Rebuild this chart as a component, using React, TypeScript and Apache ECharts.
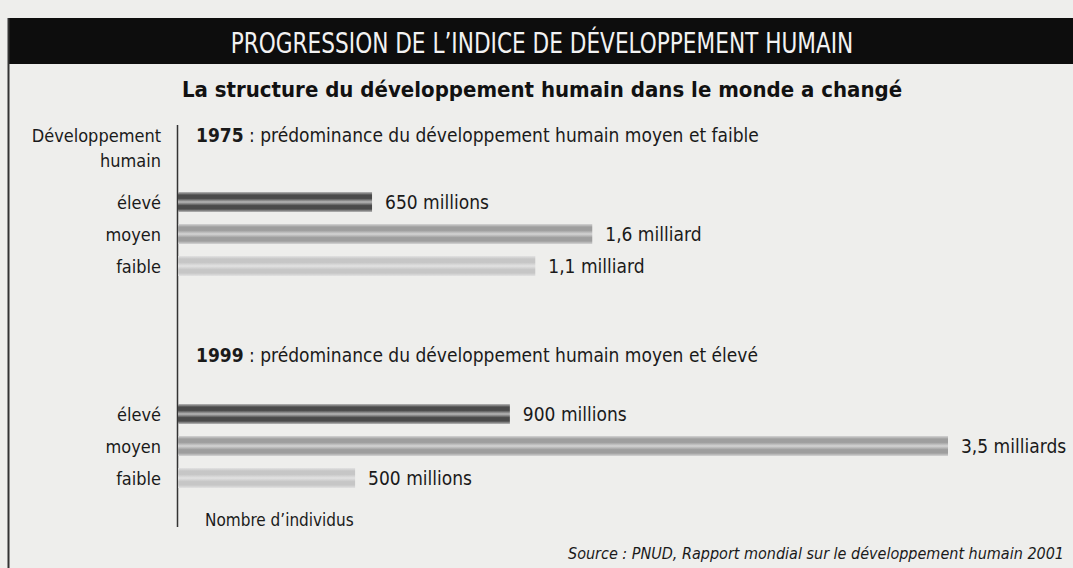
import React, { useEffect, useRef } from "react";
import * as echarts from "echarts";

const levels = ["élevé", "moyen", "faible"];
// population (millions) as labelled
const values1975 = [650, 1600, 1100];
const values1999 = [900, 3500, 500];
// bar lengths as drawn in the picture (% of longest bar; the original is not to scale)
const drawn1975 = [25.2, 53.8, 46.4];
const drawn1999 = [43.1, 100, 23.0];
const labels1975 = ["650 millions", "1,6 milliard", "1,1 milliard"];
const labels1999 = ["900 millions", "3,5 milliards", "500 millions"];

const FONT = "'Liberation Sans Narrow', 'DejaVu Sans Condensed', 'Roboto', sans-serif";

const barColors = [
  { dark: "#4a4a4a", light: "#b8b8b8" },
  { dark: "#9e9e9e", light: "#d4d4d4" },
  { dark: "#c6c6c6", light: "#e2e2e2" },
];

function grad(i: number) {
  const c = barColors[i];
  return new echarts.graphic.LinearGradient(0, 0, 0, 1, [
    { offset: 0, color: c.light },
    { offset: 0.15, color: c.dark },
    { offset: 0.32, color: c.dark },
    { offset: 0.5, color: c.light },
    { offset: 0.68, color: c.dark },
    { offset: 0.85, color: c.dark },
    { offset: 1, color: c.light },
  ]);
}

export default function App() {
  const ref = useRef<HTMLDivElement>(null);
  useEffect(() => {
    const chart = echarts.init(ref.current!, null, { renderer: "svg" });
    const mkSeries = (idx: number, drawn: number[], labels: string[]) => ({
      type: "bar",
      xAxisIndex: idx,
      yAxisIndex: idx,
      barWidth: 20,
      data: drawn.map((v, i) => ({ value: v, itemStyle: { color: grad(i) } })),
      label: {
        show: true,
        position: "right",
        distance: 13,
        fontFamily: FONT,
        fontSize: 19,
        color: "#1a1a1a",
        formatter: (p: any) => labels[p.dataIndex],
      },
    });
    const yAx = (gi: number) => ({
      type: "category",
      gridIndex: gi,
      data: levels,
      inverse: true,
      axisLine: { show: false },
      axisTick: { show: false },
      axisLabel: { fontFamily: FONT, fontSize: 18, color: "#1a1a1a", margin: 17 },
    });
    const xAx = (gi: number) => ({
      type: "value",
      gridIndex: gi,
      min: 0,
      max: 100,
      show: false,
    });
    chart.setOption({
      animation: false,
      backgroundColor: "#eeeeec",
      grid: [
        { left: 178, width: 770, top: 186, height: 96 },
        { left: 178, width: 770, top: 398, height: 96 },
      ],
      xAxis: [xAx(0), xAx(1)],
      yAxis: [yAx(0), yAx(1)],
      series: [mkSeries(0, drawn1975, labels1975), mkSeries(1, drawn1999, labels1999)],
      graphic: [
        { type: "rect", shape: { x: 8, y: 18, width: 1065, height: 46 }, style: { fill: "#0d0d0d" } },
        { type: "line", shape: { x1: 8.5, y1: 18, x2: 8.5, y2: 568 }, style: { stroke: "#333", lineWidth: 2 } },
        {
          type: "text", x: 542, y: 43, scaleX: 0.83,
          style: { text: "PROGRESSION DE L’INDICE DE DÉVELOPPEMENT HUMAIN", fill: "#f2f2f2", font: `29px ${FONT}`, align: "center", verticalAlign: "middle" },
        },
        {
          type: "text", x: 542, y: 89,
          style: { text: "La structure du développement humain dans le monde a changé", fill: "#111", font: `bold 22px ${FONT}`, align: "center", verticalAlign: "middle" },
        },
        { type: "line", shape: { x1: 177.5, y1: 125, x2: 177.5, y2: 527 }, style: { stroke: "#333", lineWidth: 1.5 } },
        {
          type: "text", x: 161, y: 135,
          style: { text: "Développement", fill: "#1a1a1a", font: `18px ${FONT}`, align: "right", verticalAlign: "middle" },
        },
        {
          type: "text", x: 161, y: 160,
          style: { text: "humain", fill: "#1a1a1a", font: `18px ${FONT}`, align: "right", verticalAlign: "middle" },
        },
        {
          type: "text", x: 196, y: 135,
          style: {
            text: "{b|1975} : prédominance du développement humain moyen et faible",
            fill: "#1a1a1a", font: `19px ${FONT}`, verticalAlign: "middle",
            rich: { b: { fontWeight: "bold", fontFamily: FONT, fontSize: 19, fill: "#1a1a1a" } },
          },
        },
        {
          type: "text", x: 196, y: 355,
          style: {
            text: "{b|1999} : prédominance du développement humain moyen et élevé",
            fill: "#1a1a1a", font: `19px ${FONT}`, verticalAlign: "middle",
            rich: { b: { fontWeight: "bold", fontFamily: FONT, fontSize: 19, fill: "#1a1a1a" } },
          },
        },
        {
          type: "text", x: 205, y: 520,
          style: { text: "Nombre d’individus", fill: "#1a1a1a", font: `17px ${FONT}`, verticalAlign: "middle" },
        },
        {
          type: "text", x: 1064, y: 553,
          style: { text: "Source : PNUD, Rapport mondial sur le développement humain 2001", fill: "#1a1a1a", font: `italic 16px ${FONT}`, align: "right", verticalAlign: "middle" },
        },
      ],
    });
    return () => chart.dispose();
  }, []);
  return <div ref={ref} style={{ position: "fixed", left: 0, top: 0, width: 1073, height: 568 }} />;
}
